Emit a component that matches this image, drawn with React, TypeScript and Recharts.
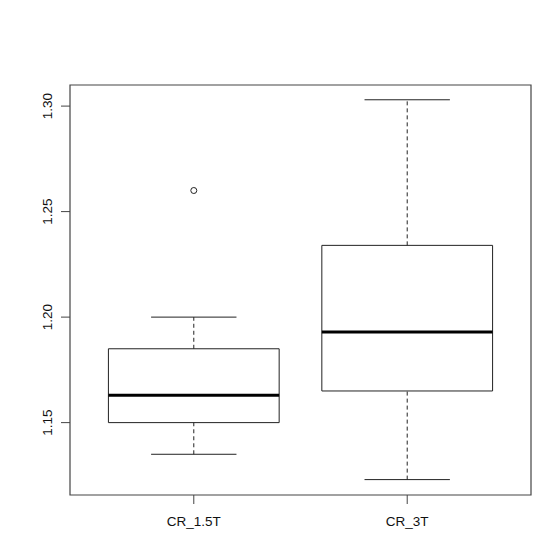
import React from 'react';
import { ComposedChart, XAxis, YAxis, Scatter, ReferenceArea, ReferenceLine } from 'recharts';

const categories = ['CR_1.5T', 'CR_3T'];
const whiskerLow = [1.135, 1.123];
const q1 = [1.15, 1.165];
const median = [1.163, 1.193];
const q3 = [1.185, 1.234];
const whiskerHigh = [1.2, 1.303];
const outliers = [[1.26], []];
const yTicks = [1.15, 1.2, 1.25, 1.3];

const X_DOMAIN: [number, number] = [0.42, 2.58];
const Y_DOMAIN: [number, number] = [1.1157, 1.31];
const BOX_HALF = 0.4;
const CAP_HALF = 0.2;
const FONT = '"Liberation Sans", Arial, sans-serif';
const INK = '#222';

const outlierData = outliers.flatMap((vals, i) => vals.map((v) => ({ x: i + 1, y: v })));

const YTick = (props: any) => {
  const { x, y, payload } = props;
  const bx = x - 9;
  return (
    <text x={bx} y={y} transform={`rotate(-90, ${bx}, ${y})`} textAnchor="middle" fontSize={13.5} fontFamily={FONT} fill="#111">
      {payload.value.toFixed(2)}
    </text>
  );
};

const XTick = (props: any) => {
  const { x, y, payload } = props;
  return (
    <text x={x} y={y + 22} textAnchor="middle" fontSize={13.5} fontFamily={FONT} fill="#111">
      {categories[payload.value - 1]}
    </text>
  );
};

const OpenCircle = (props: any) => (
  <circle cx={props.cx} cy={props.cy} r={3} fill="none" stroke={INK} strokeWidth={1} />
);

export default function App() {
  return (
    <div style={{ position: 'absolute', left: 0, top: 0, width: 538, height: 534, background: '#fff' }}>
      <ComposedChart width={538} height={534} margin={{ top: 85, right: 7, left: 0, bottom: 0 }}>
        <XAxis
          type="number"
          dataKey="x"
          domain={X_DOMAIN}
          allowDataOverflow
          ticks={[1, 2]}
          height={39}
          axisLine={false}
          tickSize={9}
          tickMargin={0}
          tickLine={{ stroke: '#444' }}
          tick={<XTick />}
        />
        <YAxis
          type="number"
          dataKey="y"
          domain={Y_DOMAIN}
          allowDataOverflow
          ticks={yTicks}
          width={70}
          axisLine={false}
          tickSize={9}
          tickMargin={0}
          tickLine={{ stroke: '#444' }}
          tick={<YTick />}
        />
        <ReferenceArea
          x1={X_DOMAIN[0]}
          x2={X_DOMAIN[1]}
          y1={Y_DOMAIN[0]}
          y2={Y_DOMAIN[1]}
          fill="none"
          stroke="#444"
          strokeWidth={1.2}
          ifOverflow="visible"
        />
        {categories.map((c, i) => {
          const cx = i + 1;
          return (
            <React.Fragment key={c}>
              <ReferenceLine
                segment={[{ x: cx, y: q3[i] }, { x: cx, y: whiskerHigh[i] }]}
                stroke={INK}
                strokeDasharray="4 3"
              />
              <ReferenceLine
                segment={[{ x: cx, y: whiskerLow[i] }, { x: cx, y: q1[i] }]}
                stroke={INK}
                strokeDasharray="4 3"
              />
              <ReferenceLine
                segment={[{ x: cx - CAP_HALF, y: whiskerHigh[i] }, { x: cx + CAP_HALF, y: whiskerHigh[i] }]}
                stroke={INK}
              />
              <ReferenceLine
                segment={[{ x: cx - CAP_HALF, y: whiskerLow[i] }, { x: cx + CAP_HALF, y: whiskerLow[i] }]}
                stroke={INK}
              />
              <ReferenceArea
                x1={cx - BOX_HALF}
                x2={cx + BOX_HALF}
                y1={q1[i]}
                y2={q3[i]}
                fill="#fff"
                fillOpacity={1}
                stroke={INK}
                strokeWidth={1}
              />
              <ReferenceLine
                segment={[{ x: cx - BOX_HALF, y: median[i] }, { x: cx + BOX_HALF, y: median[i] }]}
                stroke="#000"
                strokeWidth={3}
              />
            </React.Fragment>
          );
        })}
        <Scatter data={outlierData} shape={<OpenCircle />} isAnimationActive={false} />
      </ComposedChart>
    </div>
  );
}
